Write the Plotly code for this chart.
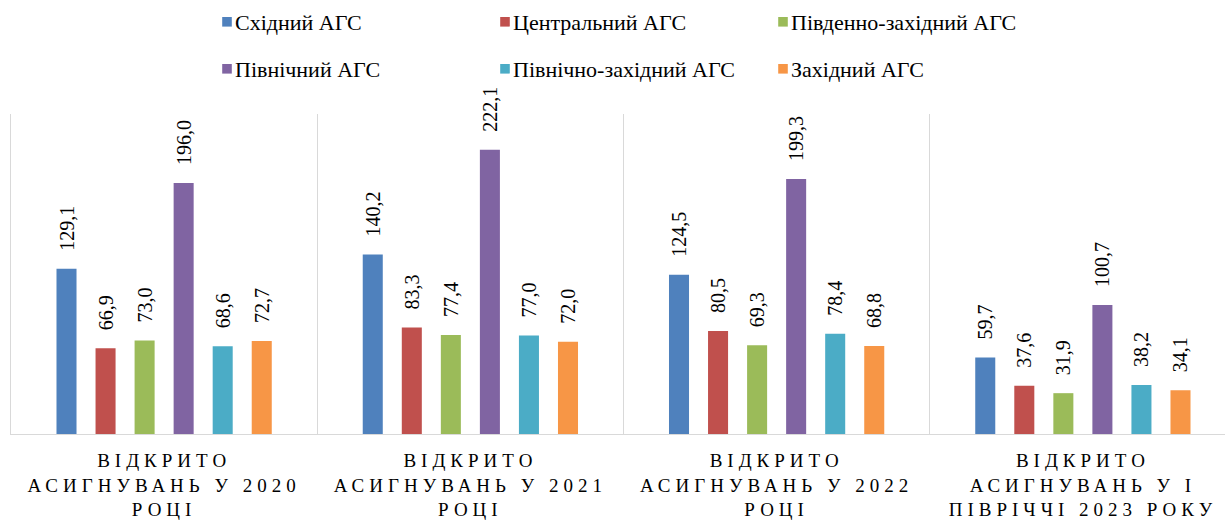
import plotly.graph_objects as go

categories = [
    "ВІДКРИТО<br>АСИГНУВАНЬ У 2020<br>РОЦІ",
    "ВІДКРИТО<br>АСИГНУВАНЬ У 2021<br>РОЦІ",
    "ВІДКРИТО<br>АСИГНУВАНЬ У 2022<br>РОЦІ",
    "ВІДКРИТО<br>АСИГНУВАНЬ У І<br>ПІВРІЧЧІ 2023 РОКУ",
]
series_names = [
    "Східний АГС",
    "Центральний АГС",
    "Південно-західний АГС",
    "Північний АГС",
    "Північно-західний АГС",
    "Західний АГС",
]
skhidnyi = [129.1, 140.2, 124.5, 59.7]
tsentralnyi = [66.9, 83.3, 80.5, 37.6]
pivdenno_zakhidnyi = [73.0, 77.4, 69.3, 31.9]
pivnichnyi = [196.0, 222.1, 199.3, 100.7]
pivnichno_zakhidnyi = [68.6, 77.0, 78.4, 38.2]
zakhidnyi = [72.7, 72.0, 68.8, 34.1]
series_values = [skhidnyi, tsentralnyi, pivdenno_zakhidnyi,
                 pivnichnyi, pivnichno_zakhidnyi, zakhidnyi]
colors = ["#4F81BD", "#C0504D", "#9BBB59", "#8064A2", "#4BACC6", "#F79646"]

FONT = "Liberation Serif"
label_font = dict(family=FONT, size=20, color="#000000")

fig = go.Figure()
for i, (name, vals, col) in enumerate(zip(series_names, series_values, colors)):
    fig.add_trace(go.Bar(
        x=categories, y=vals, name=name,
        marker=dict(color=col, line=dict(width=0)),
        texttemplate="\u00a0\u00a0\u00a0%{y:.1f}",
        textposition="outside",
        textangle=-90,
        constraintext="none",
        cliponaxis=False,
        textfont=label_font,
        outsidetextfont=label_font,
        legend="legend" if i < 3 else "legend2",
        hoverinfo="skip",
    ))

legend_common = dict(
    orientation="h",
    xref="container", yref="container",
    xanchor="left", yanchor="middle",
    font=dict(family=FONT, size=22, color="#000000"),
    entrywidth=233,
    bgcolor="rgba(0,0,0,0)",
    traceorder="normal",
    itemclick=False, itemdoubleclick=False,
)

fig.update_layout(
    width=1225, height=520,
    margin=dict(l=11, r=0, t=114, b=86, autoexpand=False),
    paper_bgcolor="white", plot_bgcolor="white",
    font=dict(family=FONT, color="#000000"),
    barmode="group",
    bargap=0.235,
    bargroupgap=0.487,
    separators=",.",
    showlegend=True,
    legend=dict(x=195 / 1225, y=1 - 22 / 520, **legend_common),
    legend2=dict(x=195 / 1225, y=1 - 69 / 520, **legend_common),
    xaxis=dict(
        type="category",
        automargin=False,
        range=[-0.5, 3.5 - 11 / 306.25],
        showline=True, linecolor="#D9D9D9", linewidth=1,
        tickson="boundaries",
        showgrid=True, gridcolor="#D9D9D9", gridwidth=1,
        ticks="",
        ticklabelstandoff=9,
        tickfont=dict(family=FONT, size=19, color="#000000"),
        fixedrange=True,
    ),
    yaxis=dict(
        automargin=False,
        range=[0, 250],
        showline=True, linecolor="#D9D9D9", linewidth=1,
        showgrid=False, zeroline=False,
        showticklabels=False, ticks="",
        fixedrange=True,
    ),
)

post_script = """
document.body.style.margin = '0';
document.body.style.padding = '0';
var gd = document.getElementById('{plot_id}');
gd.querySelectorAll('.xtick text').forEach(function(t){ t.style.letterSpacing = '5px'; });
gd.querySelectorAll('.legendpoints path').forEach(function(p){
  var tr = p.getAttribute('transform') || '';
  p.setAttribute('transform', tr + ' translate(12,0) scale(0.8)');
});
"""

fig.write_html("out.html", post_script=post_script,
               config={"displayModeBar": False, "staticPlot": True})
